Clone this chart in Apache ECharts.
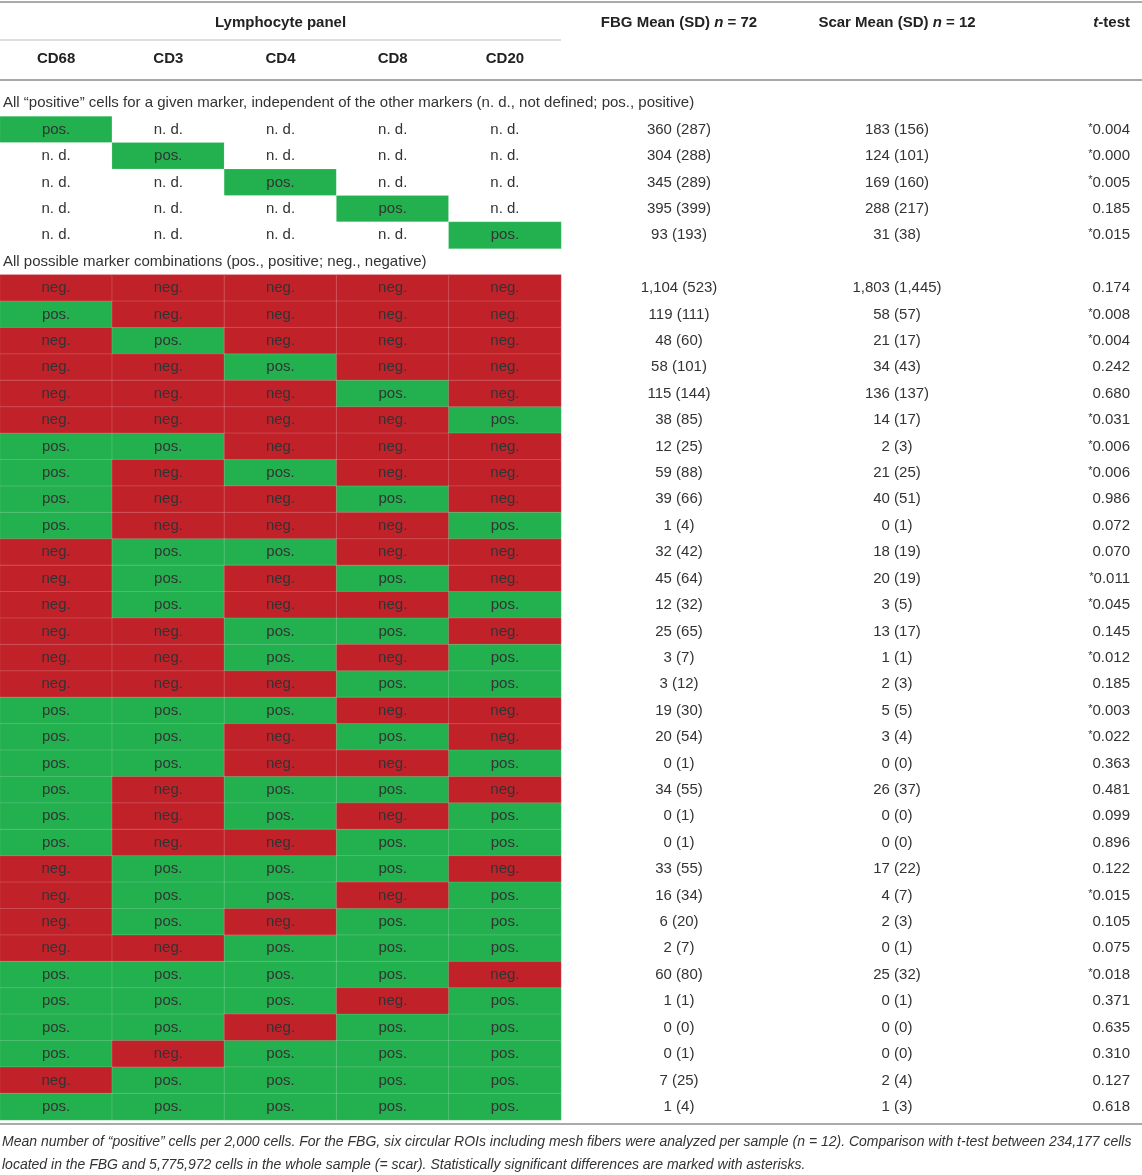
<!DOCTYPE html>
<html>
<head>
<meta charset="utf-8">
<script src="https://cdn.jsdelivr.net/npm/echarts@6/dist/echarts.min.js"></script>
<style>
  html, body { margin: 0; padding: 0; background: #fff; }
  #main { width: 1142px; height: 1175px; }
</style>
</head>
<body>
<div id="main"></div>
<script>
// markers (columns of the colored panel)
var markers = ['CD68', 'CD3', 'CD4', 'CD8', 'CD20'];

// section 1: all positive cells for one marker
var singleFbgMean = [360, 304, 345, 395, 93];
var singleFbgSd = [287, 288, 289, 399, 193];
var singleScarMean = [183, 124, 169, 288, 31];
var singleScarSd = [156, 101, 160, 217, 38];
var singleP = [0.004, 0.000, 0.005, 0.185, 0.015];

// section 2: marker combinations, P = pos., N = neg. (CD68 CD3 CD4 CD8 CD20)
var combos = [
    'NNNNN', 'PNNNN', 'NPNNN', 'NNPNN', 'NNNPN', 'NNNNP',
    'PPNNN', 'PNPNN', 'PNNPN', 'PNNNP', 'NPPNN', 'NPNPN',
    'NPNNP', 'NNPPN', 'NNPNP', 'NNNPP', 'PPPNN', 'PPNPN',
    'PPNNP', 'PNPPN', 'PNPNP', 'PNNPP', 'NPPPN', 'NPPNP',
    'NPNPP', 'NNPPP', 'PPPPN', 'PPPNP', 'PPNPP', 'PNPPP',
    'NPPPP', 'PPPPP'
];
var comboFbgMean = [1104, 119, 48, 58, 115, 38, 12, 59, 39, 1, 32, 45, 12, 25, 3, 3, 19, 20, 0, 34, 0, 0, 33, 16, 6, 2, 60, 1, 0, 0, 7, 1];
var comboFbgSd = [523, 111, 60, 101, 144, 85, 25, 88, 66, 4, 42, 64, 32, 65, 7, 12, 30, 54, 1, 55, 1, 1, 55, 34, 20, 7, 80, 1, 0, 1, 25, 4];
var comboScarMean = [1803, 58, 21, 34, 136, 14, 2, 21, 40, 0, 18, 20, 3, 13, 1, 2, 5, 3, 0, 26, 0, 0, 17, 4, 2, 0, 25, 0, 0, 0, 2, 1];
var comboScarSd = [1445, 57, 17, 43, 137, 17, 3, 25, 51, 1, 19, 19, 5, 17, 1, 3, 5, 4, 0, 37, 0, 0, 22, 7, 3, 1, 32, 1, 0, 0, 4, 3];
var comboP = [0.174, 0.008, 0.004, 0.242, 0.680, 0.031, 0.006, 0.006, 0.986, 0.072, 0.070, 0.011, 0.045, 0.145, 0.012, 0.185, 0.003, 0.022, 0.363, 0.481, 0.099, 0.896, 0.122, 0.015, 0.105, 0.075, 0.018, 0.371, 0.635, 0.310, 0.127, 0.618];

var sectionTitles = [
    'All \u201cpositive\u201d cells for a given marker, independent of the other markers (n. d., not defined; pos., positive)',
    'All possible marker combinations (pos., positive; neg., negative)'
];
var footnote = [
    'Mean number of \u201cpositive\u201d cells per 2,000 cells. For the FBG, six circular ROIs including mesh fibers were analyzed per sample (n = 12). Comparison with t-test between 234,177 cells',
    'located in the FBG and 5,775,972 cells in the whole sample (= scar). Statistically significant differences are marked with asterisks.'
];

var FONT = '"Liberation Sans", Arial, Helvetica, sans-serif';
var GREEN = '#23b04f';
var RED = '#c1222a';
var TXT = '#333';
var FS = 15;
var cellText = ['neg.', 'pos.', 'n. d.'];

// y rows: 0 = section title, 1..5 single markers, 6 = section title, 7.. combinations
var rowKeys = ['s1'];
singleFbgMean.forEach(function (v, i) { rowKeys.push('a' + i); });
rowKeys.push('s2');
combos.forEach(function (v, i) { rowKeys.push('b' + i); });
var sectionRows = [0, 1 + singleFbgMean.length];
var comboStart = sectionRows[1] + 1;

function fmt(n) { return n.toLocaleString('en-US'); }
function meanSd(m, s) { return fmt(m) + ' (' + fmt(s) + ')'; }
function pText(p) { return (p < 0.05 ? '{s|*}' : '') + p.toFixed(3); }

var heatData = [];
var fbgText = [], scarText = [], pTexts = [], textRows = [];
singleFbgMean.forEach(function (m, i) {
    markers.forEach(function (mk, j) { heatData.push([j, 1 + i, i === j ? 1 : 2]); });
    textRows.push(1 + i);
    fbgText.push(meanSd(m, singleFbgSd[i]));
    scarText.push(meanSd(singleScarMean[i], singleScarSd[i]));
    pTexts.push(pText(singleP[i]));
});
combos.forEach(function (c, i) {
    markers.forEach(function (mk, j) { heatData.push([j, comboStart + i, c[j] === 'P' ? 1 : 0]); });
    textRows.push(comboStart + i);
    fbgText.push(meanSd(comboFbgMean[i], comboFbgSd[i]));
    scarText.push(meanSd(comboScarMean[i], comboScarSd[i]));
    pTexts.push(pText(comboP[i]));
});

var TOP = 90, H = 1030;
var headStyle = { fontWeight: 'bold', fontSize: FS, color: '#222', fontFamily: FONT };
var headRich = {
    b: headStyle,
    i: { fontWeight: 'bold', fontStyle: 'italic', fontSize: FS, color: '#222', fontFamily: FONT }
};

function textAxis(idx, label, align) {
    return {
        gridIndex: idx, type: 'category', data: ['c'], position: 'top',
        axisLine: { show: false }, axisTick: { show: false },
        axisLabel: { margin: 60, align: align, formatter: function () { return label; }, rich: headRich }
    };
}

function textSeries(idx, texts, align) {
    return {
        type: 'custom', xAxisIndex: idx, yAxisIndex: idx,
        data: textRows.map(function (r) { return [0, r]; }),
        renderItem: function (params, api) {
            var c = api.coord([api.value(0), api.value(1)]);
            return {
                type: 'text', x: c[0], y: c[1],
                style: {
                    text: texts[params.dataIndex], fill: TXT, fontSize: FS, fontFamily: FONT,
                    align: align, verticalAlign: 'middle',
                    rich: { s: { fontSize: 11, fill: TXT, fontFamily: FONT, verticalAlign: 'top', padding: [0, 0, 4, 0] } }
                }
            };
        }
    };
}

var myChart = echarts.init(document.getElementById('main'));
var lineColor = '#aaaaaa';
var option = {
    animation: false,
    textStyle: { fontFamily: FONT },
    visualMap: {
        type: 'piecewise', show: false, seriesIndex: 0, dimension: 2,
        pieces: [{ value: 0, color: RED }, { value: 1, color: GREEN }, { value: 2, color: '#ffffff' }]
    },
    grid: [
        { left: 0, width: 561, top: TOP, height: H },
        { left: 600, width: 158, top: TOP, height: H },
        { left: 818, width: 158, top: TOP, height: H },
        { left: 1118, width: 24, top: TOP, height: H }
    ],
    xAxis: [
        {
            gridIndex: 0, type: 'category', data: markers, position: 'top',
            axisLine: { show: false }, axisTick: { show: false },
            axisLabel: { margin: 24, fontWeight: 'bold', fontSize: FS, color: '#222' },
            name: 'Lymphocyte panel', nameLocation: 'middle', nameGap: 60,
            nameTextStyle: headStyle
        },
        textAxis(1, '{b|FBG Mean (SD) }{i|n}{b| = 72}', 'center'),
        textAxis(2, '{b|Scar Mean (SD) }{i|n}{b| = 12}', 'center'),
        textAxis(3, '{i|t}{b|-test}', 'right')
    ],
    yAxis: [0, 1, 2, 3].map(function (i) {
        return { gridIndex: i, type: 'category', data: rowKeys, inverse: true, show: false };
    }),
    series: [
        {
            type: 'heatmap', xAxisIndex: 0, yAxisIndex: 0, data: heatData,
            itemStyle: { borderColor: 'rgba(255,255,255,0.16)', borderWidth: 1 },
            label: {
                show: true, color: TXT, fontSize: FS,
                formatter: function (p) { return cellText[p.value[2]]; }
            },
            emphasis: { disabled: true }
        },
        {
            type: 'custom', xAxisIndex: 0, yAxisIndex: 0,
            data: sectionRows.map(function (r) { return [0, r]; }),
            renderItem: function (params, api) {
                var c = api.coord([0, api.value(1)]);
                var w = api.size([1, 0])[0];
                return {
                    type: 'text', x: c[0] - w / 2 + 3, y: c[1],
                    style: {
                        text: sectionTitles[params.dataIndex], fill: TXT, fontSize: FS, fontFamily: FONT,
                        align: 'left', verticalAlign: 'middle'
                    }
                };
            }
        },
        textSeries(1, fbgText, 'center'),
        textSeries(2, scarText, 'center'),
        textSeries(3, pTexts, 'right')
    ],
    graphic: [
        { type: 'line', shape: { x1: 0, y1: 2, x2: 1142, y2: 2 }, style: { stroke: lineColor, lineWidth: 2 } },
        { type: 'line', shape: { x1: 0, y1: 40, x2: 561, y2: 40 }, style: { stroke: '#bbbbbb', lineWidth: 1 } },
        { type: 'line', shape: { x1: 0, y1: 80, x2: 1142, y2: 80 }, style: { stroke: lineColor, lineWidth: 2 } },
        { type: 'line', shape: { x1: 0, y1: 1124, x2: 1142, y2: 1124 }, style: { stroke: lineColor, lineWidth: 2 } },
        {
            type: 'text', left: 2, top: 1131,
            style: {
                text: footnote.join('\n'), fill: TXT, fontSize: 14, fontStyle: 'italic',
                fontFamily: FONT, lineHeight: 23
            }
        }
    ]
};
myChart.setOption(option);
</script>
</body>
</html>
